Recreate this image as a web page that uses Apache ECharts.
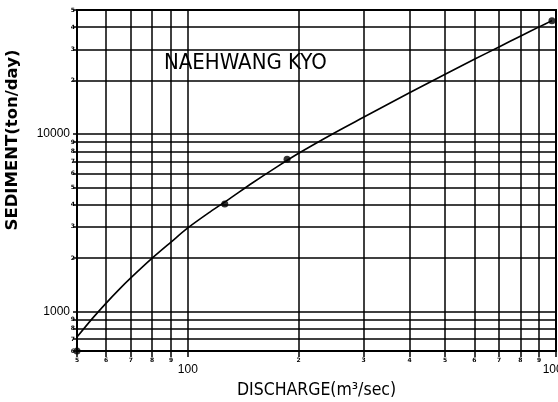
<!DOCTYPE html>
<html>
<head>
<meta charset="utf-8">
<script src="https://cdn.jsdelivr.net/npm/echarts@6/dist/echarts.min.js"></script>
<style>
html,body{margin:0;padding:0;background:#fff;}
#c{width:558px;height:402px;}
</style>
</head>
<body>
<div id="c"></div>
<script>
// ---- data ----
const xGridValues = [50,60,70,80,90,100,200,300,400,500,600,700,800,900,1000];
const xTickText   = ['5','6','7','8','9','100','2','3','4','5','6','7','8','9','1000'];
const yGridValues = [600,700,800,900,1000,2000,3000,4000,5000,6000,7000,8000,9000,10000,20000,30000,40000,50000];
const yTickText   = ['6','7','8','9','1000','2','3','4','5','6','7','8','9','10000','2','3','4','5'];
const curveQ = [50,55,60,65,70,80,90,100,115,130,150,175,200,250,300,400,500,600,700,800,900,975];
const curveS = [719,913,1117,1330,1548,2000,2464,2960,3646,4330,5318,6560,7800,10150,12430,17090,21740,26370,30970,35580,40180,43550];
const obsQ = [50,126,186,975];
const obsS = [600,4040,7210,43560];
const titleText = 'NAEHWANG KYO';
const xName = 'DISCHARGE(m³/sec)';
const yName = 'SEDIMENT(ton/day)';

function lookup(vals, texts, v){
  let best = 0, bd = Infinity;
  for (let i = 0; i < vals.length; i++){
    const d = Math.abs(Math.log10(vals[i]) - Math.log10(v));
    if (d < bd){ bd = d; best = i; }
  }
  return texts[best];
}
function isBig(t){ return t.length > 1; }

const chart = echarts.init(document.getElementById('c'), null, {renderer:'canvas'});
const gridLines = xGridValues.map(v => ({xAxis: v})).concat(yGridValues.map(v => ({yAxis: v})));

chart.setOption({
  backgroundColor: '#fff',
  animation: false,
  title: {
    text: titleText, left: 164, top: 52, padding: 0,
    textStyle: {fontFamily: 'DejaVu Sans Condensed', fontSize: 22, fontWeight: 'normal', color: '#000'}
  },
  graphic: [{
    type: 'text', x: 13, y: 140, rotation: Math.PI/2,
    style: {text: yName, fontFamily: 'DejaVu Sans', fontWeight: 'bold', fontSize: 16.5, fill: '#000',
            textAlign: 'center', textVerticalAlign: 'middle'}
  }],
  grid: {left: 77, right: 2, top: 10, bottom: 51, show: true, borderColor: '#000', borderWidth: 2,
         containLabel: false, outerBoundsMode: 'none'},
  xAxis: {
    type: 'log', logBase: 10, min: 50, max: 1000,
    name: xName, nameLocation: 'middle', nameGap: 30,
    nameTextStyle: {fontFamily: 'DejaVu Sans Condensed', fontSize: 17.5, color: '#000'},
    axisLine: {show: false},
    splitLine: {show: false},
    axisTick: {show: true, customValues: xGridValues, length: 6, inside: false, lineStyle: {color: '#000', width: 1.5}},
    axisLabel: {
      customValues: xGridValues, margin: 6, hideOverlap: false, showMinLabel: true, showMaxLabel: true,
      verticalAlign: 'top',
      formatter: v => { const t = lookup(xGridValues, xTickText, v); return isBig(t) ? '{b|' + t + '}' : '{s|' + t + '}'; },
      rich: {
        b: {fontFamily: 'Liberation Sans', fontSize: 12, color: '#000', padding: [7,0,0,0]},
        s: {fontFamily: 'DejaVu Sans', fontSize: 6, fontWeight: 'bold', color: '#000'}
      }
    }
  },
  yAxis: {
    type: 'log', logBase: 10, min: 600, max: 50000,
    axisLine: {show: false},
    splitLine: {show: false},
    axisTick: {show: true, customValues: yGridValues, length: 4, inside: false, lineStyle: {color: '#000', width: 1.5}},
    axisLabel: {
      customValues: yGridValues, margin: 2, hideOverlap: false, showMinLabel: true, showMaxLabel: true,
      formatter: v => { const t = lookup(yGridValues, yTickText, v); return isBig(t) ? '{b|' + t + '}' : '{s|' + t + '}'; },
      rich: {
        b: {fontFamily: 'Liberation Sans', fontSize: 12, color: '#000', padding: [0,5,0,0]},
        s: {fontFamily: 'DejaVu Sans', fontSize: 6, fontWeight: 'bold', color: '#000'}
      }
    }
  },
  series: [
    {
      type: 'line', data: curveQ.map((q, i) => [q, curveS[i]]), smooth: 0.3, showSymbol: false,
      lineStyle: {color: '#000', width: 1.6}, z: 5, silent: true,
      markLine: {
        silent: true, symbol: 'none', animation: false,
        label: {show: false},
        lineStyle: {color: '#000', width: 1.5, type: 'solid'},
        data: gridLines
      }
    },
    {
      type: 'scatter', data: obsQ.map((q, i) => [q, obsS[i]]), symbol: 'circle', symbolSize: 7,
      itemStyle: {color: '#000'}, z: 6, silent: true
    }
  ]
});
</script>
</body>
</html>
